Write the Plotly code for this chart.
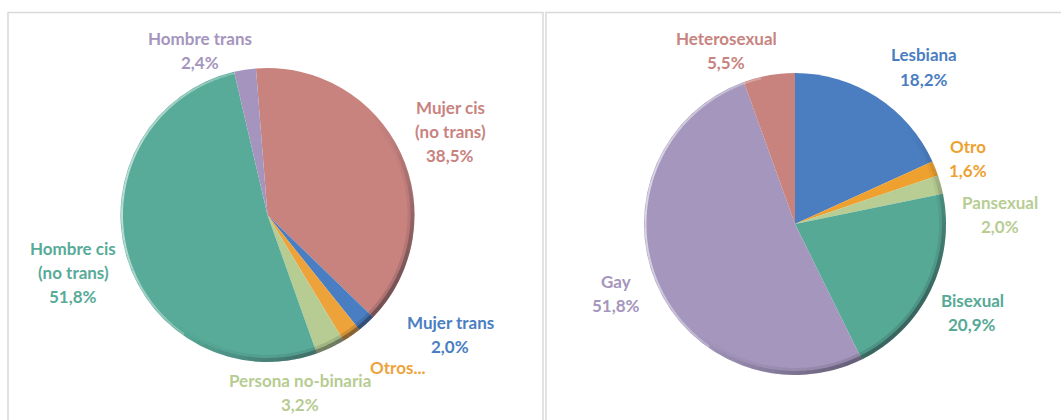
import math
import plotly.graph_objects as go

# Identidad de género
genero_labels = ["Mujer cis (no trans)", "Mujer trans", "Otros...", "Persona no-binaria",
                 "Hombre cis (no trans)", "Hombre trans"]
genero_values = [38.5, 2.0, 2.1, 3.2, 51.8, 2.4]
genero_colors = ["#C8837F", "#4A7EC2", "#EEA33A", "#B6CC92", "#58AB99", "#A595BE"]

# Orientación sexual
orient_labels = ["Lesbiana", "Otro", "Pansexual", "Bisexual", "Gay", "Heterosexual"]
orient_values = [18.2, 1.6, 2.0, 20.9, 51.8, 5.5]
orient_colors = ["#4B7EC1", "#EEA12F", "#B7CD93", "#56A995", "#A496BC", "#C8837F"]

W, H = 1061, 420


def fmt(v):
    return f"{v:.1f}".replace(".", ",") + "%"


def px_x(x):
    return x / W


def px_y(y):
    return 1 - y / H


fig = go.Figure()

# Left pie: centre (267.5, 215), radius 147 px
cx, cy, r = 267.5, 215, 147
fig.add_trace(go.Pie(
    labels=genero_labels, values=genero_values, sort=False, direction="clockwise",
    rotation=-4.5, textinfo="none", hoverinfo="label+percent",
    marker=dict(colors=genero_colors, line=dict(width=0)),
    domain=dict(x=[px_x(cx - r), px_x(cx + r)], y=[px_y(cy + r), px_y(cy - r)]),
    showlegend=False,
))

# Right pie: centre (795, 224), radius 151 px
cx2, cy2, r2 = 795, 224, 151
fig.add_trace(go.Pie(
    labels=orient_labels, values=orient_values, sort=False, direction="clockwise",
    rotation=0, textinfo="none", hoverinfo="label+percent",
    marker=dict(colors=orient_colors, line=dict(width=0)),
    domain=dict(x=[px_x(cx2 - r2), px_x(cx2 + r2)], y=[px_y(cy2 + r2), px_y(cy2 - r2)]),
    showlegend=False,
))

# Label text lines for each slice, with pixel anchor of first line
genero_text = {
    "Mujer cis (no trans)": (["Mujer cis", "(no trans)"], 450, 107, True),
    "Mujer trans": (["Mujer trans"], 450, 322, True),
    "Otros...": (["Otros..."], 398, 367, False),
    "Persona no-binaria": (["Persona no-binaria"], 300, 380, True),
    "Hombre cis (no trans)": (["Hombre cis", "(no trans)"], 73, 248, True),
    "Hombre trans": (["Hombre trans"], 200, 38, True),
}
orient_text = {
    "Lesbiana": (["Lesbiana"], 924, 55, True),
    "Otro": (["Otro"], 968, 146, True),
    "Pansexual": (["Pansexual"], 1000, 202, True),
    "Bisexual": (["Bisexual"], 972, 300, True),
    "Gay": (["Gay"], 616, 281, True),
    "Heterosexual": (["Heterosexual"], 726, 38, True),
}

LINE = 24
annotations = []
for labels, values, colors, spec in [
    (genero_labels, genero_values, genero_colors, genero_text),
    (orient_labels, orient_values, orient_colors, orient_text),
]:
    for lab, val, col in zip(labels, values, colors):
        lines, x, y, show_pct = spec[lab]
        lines = list(lines) + ([fmt(val)] if show_pct else [])
        for i, ln in enumerate(lines):
            annotations.append(dict(
                text=f"<b>{ln}</b>", x=px_x(x), y=px_y(y + i * LINE),
                xref="paper", yref="paper", xanchor="center", yanchor="middle",
                showarrow=False, font=dict(family="Lato", size=17, color=col),
            ))

border = "#D9D9D9"
shapes = [
    dict(type="rect", xref="paper", yref="paper",
         x0=px_x(8), x1=px_x(543), y0=-0.1, y1=px_y(12.5),
         line=dict(color=border, width=1.5), fillcolor="rgba(0,0,0,0)", layer="below"),
    dict(type="rect", xref="paper", yref="paper",
         x0=px_x(546), x1=1.1, y0=-0.1, y1=px_y(12.5),
         line=dict(color=border, width=1.5), fillcolor="rgba(0,0,0,0)", layer="below"),
]


def rim(cxp, cyp, rad, a0, a1, color, width):
    """Arc along the pie edge, angles clockwise from 12 o'clock."""
    pts = []
    steps = 4
    for k in range(steps + 1):
        a = math.radians(a0 + (a1 - a0) * k / steps)
        pts.append((px_x(cxp + rad * math.sin(a)), px_y(cyp - rad * math.cos(a))))
    path = "M " + " L ".join(f"{x:.5f},{y:.5f}" for x, y in pts)
    return dict(type="path", xref="paper", yref="paper", path=path,
                line=dict(color=color, width=width), layer="above")


# Bevel shading: darker rim towards the lower right, light rim on the upper left
STEP = 3
for (pcx, pcy, pr) in [(cx, cy, r), (cx2, cy2, r2)]:
    for a in range(20, 250, STEP):
        w = math.cos(math.radians(a + STEP / 2 - 135))
        if w <= 0:
            continue
        op = 0.5 * w ** 1.5
        shapes.append(rim(pcx, pcy, pr - 2, a, a + STEP, f"rgba(30,30,40,{op:.3f})", 4))
        shapes.append(rim(pcx, pcy, pr - 5.5, a, a + STEP, f"rgba(30,30,40,{op * 0.3:.3f})", 3))
    for a in range(215, 345, STEP):
        w = math.cos(math.radians(a + STEP / 2 - 280))
        if w <= 0:
            continue
        op = 0.6 * w
        shapes.append(rim(pcx, pcy, pr - 1.5, a, a + STEP, f"rgba(255,255,255,{op:.3f})", 2))

fig.update_layout(
    width=W, height=H, margin=dict(l=0, r=0, t=0, b=0),
    paper_bgcolor="white", plot_bgcolor="white",
    annotations=annotations, shapes=shapes,
)

fig.write_html("out.html")
